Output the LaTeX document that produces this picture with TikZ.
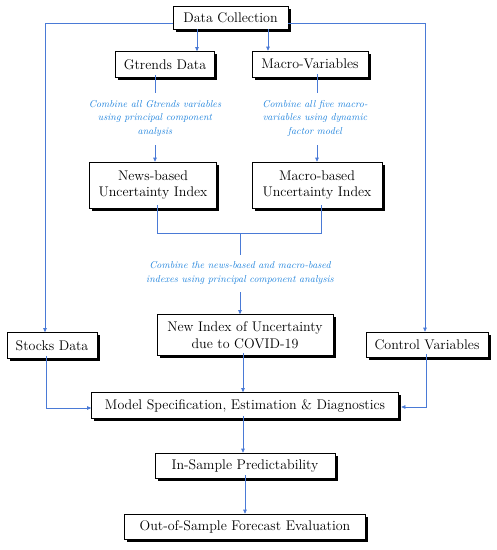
\documentclass[tikz,border=0pt]{standalone}
\usetikzlibrary{arrows.meta,calc,shadows}
\definecolor{lineblue}{RGB}{74,122,214}
\definecolor{textblue}{RGB}{30,130,220}
\tikzset{
  box/.style={draw=black, line width=0.6pt, fill=white, inner sep=0pt, align=center,
    font=\fontsize{14}{16.5}\selectfont,
    drop shadow={shadow xshift=2.5pt, shadow yshift=-2.5pt, fill=black, opacity=1}},
  note/.style={text=textblue, align=center, inner sep=1pt,
    font=\fontsize{10}{13.5}\selectfont\itshape},
  link/.style={draw=lineblue, line width=0.6pt},
  arr/.style={link, -{Triangle[length=4pt,width=3.5pt]}}
}
\begin{document}
\begin{tikzpicture}[x=1pt,y=-1pt]
\useasboundingbox (0,0) rectangle (497,550);
% boxes
\node[box, minimum width=115pt, minimum height=23pt] (dc) at (230.5,17.5) {Data Collection};
\node[box, minimum width=99pt, minimum height=26pt] (gt) at (165,64.5) {Gtrends Data};
\node[box, minimum width=116pt, minimum height=26pt] (mv) at (310,64) {Macro-Variables};
\node[box, minimum width=127pt, minimum height=46pt] (nb) at (153,185) {News-based\\Uncertainty Index};
\node[box, minimum width=130pt, minimum height=46pt] (mb) at (317,185) {Macro-based\\Uncertainty Index};
\node[box, minimum width=176pt, minimum height=41pt] (ni) at (245,335) {New Index of Uncertainty\\due to COVID-19};
\node[box, minimum width=90pt, minimum height=26pt] (sd) at (52,345.5) {Stocks Data};
\node[box, minimum width=122pt, minimum height=25pt] (cv) at (427,344.5) {Control Variables};
\node[box, minimum width=307pt, minimum height=26pt] (ms) at (245,405.5) {Model Specification, Estimation \& Diagnostics};
\node[box, minimum width=180pt, minimum height=25pt] (is) at (245,465.5) {In-Sample Predictability};
\node[box, minimum width=241pt, minimum height=25pt] (os) at (245,526.5) {Out-of-Sample Forecast Evaluation};
% notes
\node[note] (n1) at (155,118) {Combine all Gtrends variables\\using principal component\\analysis};
\node[note] (n2) at (315,118) {Combine all five macro-\\variables using dynamic\\factor model};
\node[note] (n3) at (240,273) {Combine the news-based and macro-based\\indexes using principal component analysis};
% connectors
\draw[arr] ([yshift=-6pt]dc.west) -- ([yshift=-6pt]dc.west -| 45,0) -- (45,0 |- sd.north);
\draw[arr] ([yshift=-6pt]dc.east) -- ([yshift=-6pt]dc.east -| 425,0) -- (425,0 |- cv.north);
\draw[arr] (197,0 |- dc.south) -- (197,0 |- gt.north);
\draw[arr] (268,0 |- dc.south) -- (268,0 |- mv.north);
\draw[link] ([yshift=3pt]155,0 |- gt.south) -- (155,93);
\draw[arr] (155,145) -- (155,0 |- nb.north);
\draw[link] ([yshift=3pt]317,0 |- mv.south) -- (317,93);
\draw[arr] (317,145) -- (317,0 |- mb.north);
\draw[link] ([yshift=3pt]157,0 |- nb.south) -- (157,233) -- (321,233) -- ([yshift=3pt]321,0 |- mb.south);
\draw[link] (240,233) -- (240,255);
\draw[arr] (240,292) -- (240,0 |- ni.north);
\draw[arr] ([yshift=3pt]46,0 |- sd.south) -- (46,408) -- (ms.west |- 0,408);
\draw[arr] ([yshift=3pt]426,0 |- cv.south) -- (426,407) -- ([xshift=2.5pt]ms.east |- 0,407);
\draw[arr] ([yshift=3pt]243,0 |- ni.south) -- (243,0 |- ms.north);
\draw[arr] ([yshift=3pt]243,0 |- ms.south) -- (243,0 |- is.north);
\draw[arr] ([yshift=3pt]245,0 |- is.south) -- (245,0 |- os.north);
\end{tikzpicture}
\end{document}
